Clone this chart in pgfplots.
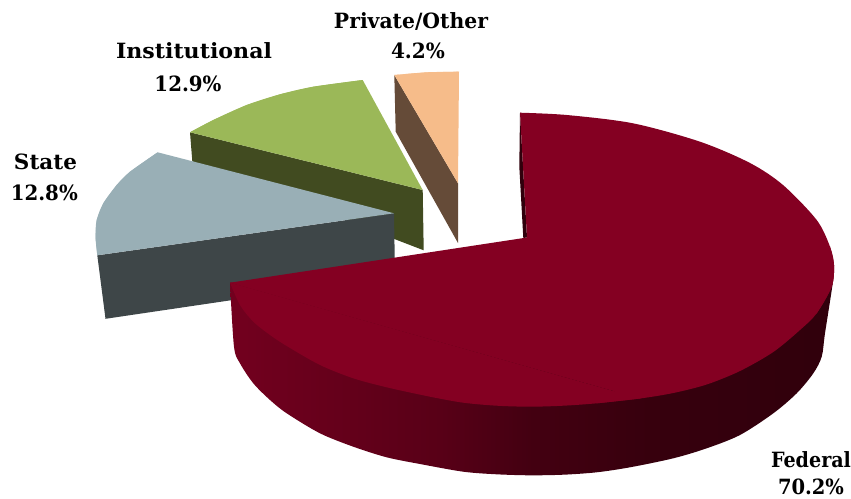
\documentclass[border=0pt]{standalone}
\usepackage{fontspec}
\setmainfont{DejaVu Serif}
\usepackage{graphicx}
\usepackage{pgfplots}
\pgfplotsset{compat=1.18}
\definecolor{fedtop}{HTML}{840022}
\definecolor{fedC}{HTML}{30000C}
\definecolor{insttop}{HTML}{9BB858}
\definecolor{instside}{HTML}{414B20}
\definecolor{statetop}{HTML}{99AFB6}
\definecolor{stateside}{HTML}{3E4648}
\definecolor{privtop}{HTML}{F6BC8A}
\definecolor{privside}{HTML}{654B38}
\pgfdeclarehorizontalshading{fedwall}{100bp}{
  rgb(0bp)=(0.45,0,0.12); rgb(25bp)=(0.45,0,0.12);
  rgb(42.4bp)=(0.345,0,0.09); rgb(49.8bp)=(0.265,0,0.068);
  rgb(59.8bp)=(0.215,0,0.052); rgb(75bp)=(0.19,0,0.047); rgb(100bp)=(0.19,0,0.047)}
\tikzset{lbl/.style={font=\fontsize{21}{23}\selectfont\bfseries,anchor=center,inner sep=0pt}}
\newcommand{\lab}[2]{\resizebox{#1pt}{\height}{#2}}
\begin{document}
\begin{tikzpicture}
\path[use as bounding box] (0,0) rectangle (851pt,498pt);
\begin{axis}[
  width=851pt,height=498pt,scale only axis,
  xmin=0,xmax=851,ymin=0,ymax=498,y dir=reverse,
  hide axis,clip=false,
  every axis plot/.append style={draw=none,no markers}]
% Private/Other 4.2%
\addplot[fill=privside] coordinates {(394.3,75)(395.7,131.7)(458,243)(458,183.3)(394.3,75)};
\addplot[fill=privtop,smooth] coordinates {(394.3,75)(427,72.3)(459,71.7)};
\addplot[fill=privtop] coordinates {(394.3,75)(427,72.3)(459,71.7)(458,183.3)(394.3,75)};
% Institutional 12.9%
\addplot[fill=instside] coordinates {(190,132.3)(192.3,161.3)(423.7,250.3)(422.7,190)(190,132.3)};
\addplot[fill=insttop,smooth] coordinates {(190,132.3)(213.3,120)(246.7,105)(280,94.3)(313.3,86.7)(362.7,80)};
\addplot[fill=insttop] coordinates {(190,132.3)(213.3,120)(246.7,105)(280,94.3)(313.3,86.7)(362.7,80)(422.7,190)(190,132.3)};
% State 12.8%
\addplot[fill=stateside] coordinates {(97.3,255.3)(105.5,318.8)(395,276)(394,213.3)(97.3,255.3)};
\addplot[fill=statetop,smooth] coordinates {(157.7,152.3)(130,171.7)(116.7,185)(103.3,203.3)(96.7,220)(95.5,236.7)(97.3,255.3)};
\addplot[fill=statetop] coordinates {(157.7,152.3)(130,171.7)(116.7,185)(103.3,203.3)(96.7,220)(95.5,236.7)(97.3,255.3)(394,213.3)(157.7,152.3)};
% Federal 70.2%
\addplot[fill=fedC] coordinates {(520,112.7)(519.3,166.7)(523.3,238)(527,237.5)(520,112.7)};
\addplot[shading=fedwall,smooth] coordinates {
 (230,282.7)(234,346.7)(240,363.3)(253.3,383.3)(270,400)(286.7,413.3)(320,433.3)(353.3,446.7)(386.7,457.3)(420,464)(463.3,471.7)(496.7,474.3)(530,475.3)(563.3,474.7)(596.7,472.3)(630,467.3)(673.3,458.3)(706.7,448.3)(740,435)(773.3,413.3)(796.7,393.3)(813.3,373.3)(821.7,356.7)(825,333.3)(832.7,283.3)(834,265)};
\addplot[fill=fedtop,smooth] coordinates {
 (520,112.7)(566.7,115)(633,123.3)(700,141.7)(750,163)(783,185)(816.7,220)(830,246.7)(834,265)(831.7,286.7)(816.7,313.3)};
\addplot[fill=fedtop,smooth] coordinates {
 (830,246.7)(834,265)(831.7,286.7)(816.7,313.3)(800,330)(773.3,352)(740,371)(706.7,384.5)(673.3,393)(640,398.5)(596.7,403.3)};
\addplot[fill=fedtop,smooth] coordinates {
 (640,398.5)(596.7,403.3)(563.3,405.7)(530,406.7)(496.7,405.7)(463.3,402.7)(430,396.7)(386.7,387.3)(353.3,378.3)(320,365)(286.7,346)(270,335)(253.3,321.7)(240,305)(230,282.7)};
\addplot[fill=fedtop] coordinates {(520,112.7)(830,246.7)(816.7,313.3)(640,398.5)(230,282.7)(527,237.5)(520,112.7)};
% Labels
\node[lbl] at (axis cs:411,21) {\lab{154}{Private/Other}};
\node[lbl] at (axis cs:418,51) {\lab{54}{4.2\%}};
\node[lbl] at (axis cs:194,51) {\lab{156}{Institutional}};
\node[lbl] at (axis cs:188,84) {\lab{67}{12.9\%}};
\node[lbl] at (axis cs:45.5,161.5) {\lab{63}{State}};
\node[lbl] at (axis cs:44.3,192.5) {\lab{67}{12.8\%}};
\node[lbl] at (axis cs:811,460) {\lab{80}{Federal}};
\node[lbl] at (axis cs:811,486.5) {\lab{66}{70.2\%}};
\end{axis}
\end{tikzpicture}
\end{document}
